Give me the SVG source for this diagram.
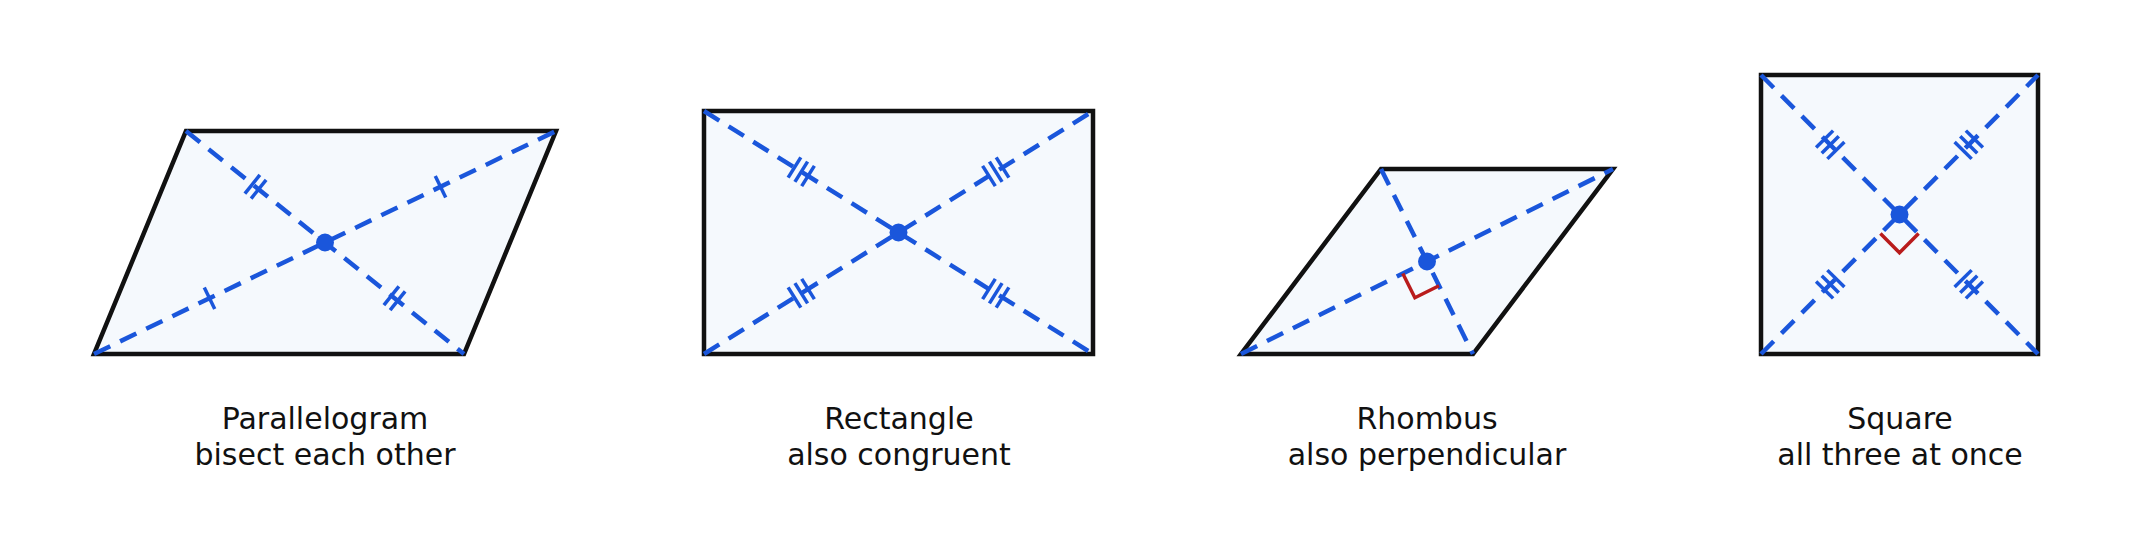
<svg xmlns="http://www.w3.org/2000/svg" width="2132" height="549" viewBox="0 0 2132 549">
<style>
.shape{fill:#f5f9fd;stroke:#111;stroke-width:4.5;stroke-linejoin:miter}
.diag{stroke:#1a56db;stroke-width:4.5;stroke-dasharray:18 11;fill:none}
.tick{stroke:#1a56db;stroke-width:3.5}
.dot{fill:#1a56db}
.ra{stroke:#b91c1c;stroke-width:3.5;fill:none}
text{font-family:"DejaVu Sans",sans-serif;font-size:30px;fill:#111;text-anchor:middle}
</style>
<defs>
<g id="t1"><line class="tick" x1="0" y1="-12" x2="0" y2="12"/></g>
<g id="t2"><line class="tick" x1="-4" y1="-12" x2="-4" y2="12"/><line class="tick" x1="4" y1="-12" x2="4" y2="12"/></g>
<g id="t3"><line class="tick" x1="-8" y1="-12" x2="-8" y2="12"/><line class="tick" x1="0" y1="-12" x2="0" y2="12"/><line class="tick" x1="8" y1="-12" x2="8" y2="12"/></g>
</defs>
<g id="parallelogram">
<polygon class="shape" points="186,131 556,131 464,354 94,354"/>
<line class="diag" x1="186" y1="131" x2="464" y2="354"/>
<line class="diag" x1="94" y1="354" x2="556" y2="131"/>
<use href="#t2" transform="translate(255.5,186.8) rotate(38.7)"/>
<use href="#t2" transform="translate(394.5,298.3) rotate(38.7)"/>
<use href="#t1" transform="translate(209.5,298.3) rotate(-25.8)"/>
<use href="#t1" transform="translate(440.5,186.8) rotate(-25.8)"/>
<circle class="dot" cx="325" cy="242.5" r="9"/>
<text x="325" y="429">Parallelogram</text>
<text x="325" y="465">bisect each other</text>
</g>
<g id="rectangle">
<rect class="shape" x="704" y="111" width="389" height="243"/>
<line class="diag" x1="704" y1="111" x2="1093" y2="354"/>
<line class="diag" x1="704" y1="354" x2="1093" y2="111"/>
<use href="#t3" transform="translate(801.25,171.75) rotate(32)"/>
<use href="#t3" transform="translate(995.75,293.25) rotate(32)"/>
<use href="#t3" transform="translate(801.25,293.25) rotate(-32)"/>
<use href="#t3" transform="translate(995.75,171.75) rotate(-32)"/>
<circle class="dot" cx="898.5" cy="232.5" r="9"/>
<text x="899" y="429">Rectangle</text>
<text x="899" y="465">also congruent</text>
</g>
<g id="rhombus">
<polygon class="shape" points="1381,169 1613,169 1473,354 1241,354"/>
<line class="diag" x1="1241" y1="354" x2="1613" y2="169"/>
<line class="diag" x1="1381" y1="169" x2="1473" y2="354"/>
<polyline class="ra" points="1402.8,273.5 1414.9,297.7 1439,285.7"/>
<circle class="dot" cx="1427" cy="261.5" r="9"/>
<text x="1427" y="429">Rhombus</text>
<text x="1427" y="465">also perpendicular</text>
</g>
<g id="square">
<rect class="shape" x="1761" y="75" width="277" height="279"/>
<line class="diag" x1="1761" y1="75" x2="2038" y2="354"/>
<line class="diag" x1="1761" y1="354" x2="2038" y2="75"/>
<use href="#t3" transform="translate(1830.25,144.75) rotate(45.2)"/>
<use href="#t3" transform="translate(1968.75,284.25) rotate(45.2)"/>
<use href="#t3" transform="translate(1830.25,284.25) rotate(-45.2)"/>
<use href="#t3" transform="translate(1968.75,144.75) rotate(-45.2)"/>
<polyline class="ra" points="1880.4,233.6 1899.5,252.7 1918.6,233.6"/>
<circle class="dot" cx="1899.5" cy="214.5" r="9"/>
<text x="1900" y="429">Square</text>
<text x="1900" y="465">all three at once</text>
</g>
<g id="connectors"/>
</svg>
